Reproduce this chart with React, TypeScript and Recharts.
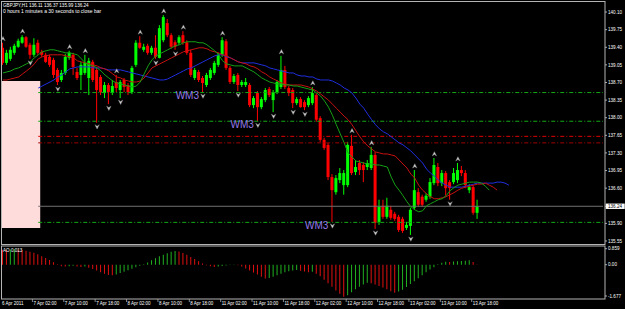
import React from 'react';
import { ComposedChart, Bar, Line, XAxis, YAxis, ReferenceLine, ReferenceArea, Cell } from 'recharts';

// GBPJPY H1 candles, one per hour from 6 Apr 19:00
const opens = [
  139.39, 139.09, 139.17, 139.29, 139.41, 139.49, 139.60, 139.45, 139.25, 139.49,
  139.31, 139.25, 139.21, 139.15, 138.95, 138.75, 138.89, 139.19, 139.25, 138.91,
  138.85, 138.89, 138.79, 139.11, 138.95, 138.81, 138.49, 138.65, 138.51, 138.71,
  138.55, 138.75, 138.65, 138.51, 139.05, 139.49, 139.35, 139.43, 139.29, 139.39,
  139.19, 139.54, 139.88, 139.64, 139.50, 139.49, 139.64, 139.50, 139.29, 138.79,
  138.91, 138.79, 138.65, 138.79, 138.89, 139.05, 139.25, 139.52, 138.99, 138.71,
  138.85, 138.65, 138.65, 138.65, 138.25, 138.49, 138.21, 138.35, 138.57, 138.35,
  138.51, 138.61, 138.95, 138.59, 138.55, 138.29, 138.37, 138.31, 138.25, 138.29,
  138.45, 137.99, 137.56, 137.46, 136.82, 136.52, 136.76, 136.66, 136.66, 137.44,
  136.92, 137.10, 137.06, 137.02, 137.00, 137.26, 135.93, 136.25, 136.03, 136.17,
  136.09, 136.03, 135.99, 135.81, 135.85, 136.21, 136.52, 136.43, 136.37, 136.43,
  136.70, 137.02, 136.70, 136.90, 136.72, 136.72, 136.76, 136.96, 136.90, 136.56,
  136.62, 136.11,
];
const highs = [
  139.49, 139.35, 139.41, 139.47, 139.57, 139.64, 139.62, 139.49, 139.58, 139.55,
  139.35, 139.29, 139.25, 139.19, 138.99, 138.95, 139.27, 139.33, 139.29, 138.99,
  139.11, 139.25, 139.19, 139.15, 138.99, 138.85, 138.71, 138.69, 138.75, 138.85,
  138.75, 138.79, 138.69, 139.03, 139.54, 139.62, 139.47, 139.47, 139.43, 139.64,
  139.84, 140.04, 139.96, 139.68, 139.54, 139.64, 139.72, 139.54, 139.35, 138.99,
  138.95, 138.83, 138.89, 138.99, 139.13, 139.29, 139.60, 139.56, 139.03, 138.87,
  138.89, 138.75, 138.79, 138.69, 138.43, 138.53, 138.41, 138.59, 138.61, 138.55,
  138.75, 139.23, 139.03, 138.63, 138.59, 138.41, 138.41, 138.35, 138.43, 138.61,
  138.49, 138.03, 137.60, 137.50, 136.88, 136.86, 137.00, 136.96, 137.52, 137.66,
  137.16, 137.16, 137.12, 137.16, 137.42, 137.32, 136.37, 136.37, 136.41, 136.25,
  136.13, 136.07, 136.03, 135.93, 136.21, 136.96, 136.60, 136.47, 136.50, 136.80,
  137.20, 137.10, 136.96, 136.94, 136.76, 137.00, 137.10, 137.04, 136.96, 136.68,
  136.66, 136.37,
];
const lows = [
  139.05, 139.05, 139.13, 139.25, 139.39, 139.47, 139.39, 139.17, 139.21, 139.25,
  139.21, 139.09, 139.01, 138.79, 138.65, 138.71, 138.85, 139.15, 138.85, 138.75,
  138.55, 138.85, 138.45, 138.71, 137.90, 138.45, 138.39, 138.27, 138.45, 138.51,
  138.39, 138.51, 138.45, 138.47, 139.01, 139.37, 139.31, 139.25, 139.25, 139.17,
  139.18, 139.50, 139.60, 139.37, 139.35, 139.45, 139.45, 139.25, 138.81, 138.75,
  138.71, 138.51, 138.61, 138.75, 138.85, 139.01, 139.21, 138.95, 138.67, 138.67,
  138.53, 138.61, 138.61, 138.21, 138.19, 137.93, 138.17, 138.31, 138.41, 138.11,
  138.47, 138.57, 138.57, 138.43, 138.19, 138.25, 138.20, 138.15, 138.21, 138.25,
  137.92, 137.52, 137.36, 136.76, 135.93, 136.47, 136.70, 136.47, 136.62, 136.86,
  136.86, 136.86, 136.72, 136.96, 136.96, 135.79, 135.87, 135.99, 135.99, 135.97,
  135.95, 135.73, 135.71, 135.77, 135.67, 136.17, 136.23, 136.23, 136.33, 136.39,
  136.66, 136.64, 136.64, 136.45, 136.37, 136.68, 136.70, 136.84, 136.60, 136.50,
  136.07, 135.99,
];
const closes = [
  139.09, 139.29, 139.35, 139.43, 139.53, 139.60, 139.41, 139.25, 139.45, 139.29,
  139.25, 139.11, 139.05, 138.85, 138.71, 138.89, 139.21, 139.29, 139.01, 138.79,
  139.05, 139.09, 139.13, 138.75, 138.55, 138.51, 138.65, 138.51, 138.63, 138.59,
  138.71, 138.61, 138.51, 138.99, 139.49, 139.39, 139.41, 139.29, 139.39, 139.21,
  139.78, 140.00, 139.64, 139.41, 139.41, 139.60, 139.49, 139.29, 138.85, 138.95,
  138.75, 138.69, 138.85, 138.95, 139.09, 139.25, 139.54, 138.99, 138.71, 138.83,
  138.65, 138.71, 138.71, 138.25, 138.39, 138.21, 138.37, 138.55, 138.45, 138.51,
  138.71, 138.95, 138.61, 138.49, 138.29, 138.37, 138.21, 138.21, 138.39, 138.49,
  137.96, 137.56, 137.40, 136.82, 136.56, 136.80, 136.90, 136.90, 137.46, 136.90,
  137.02, 136.96, 136.96, 137.10, 137.26, 135.91, 136.23, 136.03, 136.25, 136.01,
  135.99, 135.77, 135.75, 135.87, 136.17, 136.56, 136.27, 136.27, 136.45, 136.72,
  137.06, 136.70, 136.90, 136.60, 136.60, 136.90, 136.96, 136.90, 136.66, 136.62,
  136.11, 136.24,
];

// Alligator lines (shifted forward past the last bar)
const lips = [
  138.89, 138.91, 138.93, 138.97, 138.99, 139.03, 139.07, 139.11, 139.19, 139.25,
  139.31, 139.33, 139.35, 139.35, 139.33, 139.31, 139.29, 139.29, 139.27, 139.25,
  139.17, 139.09, 139.05, 139.03, 138.99, 138.93, 138.85, 138.79, 138.73, 138.69,
  138.67, 138.65, 138.63, 138.61, 138.63, 138.71, 138.87, 139.03, 139.15, 139.23,
  139.27, 139.31, 139.35, 139.39, 139.43, 139.45, 139.49, 139.51, 139.51, 139.51,
  139.49, 139.49, 139.45, 139.39, 139.33, 139.25, 139.13, 139.07, 139.05, 139.03,
  139.03, 139.03, 138.99, 138.95, 138.91, 138.85, 138.79, 138.75, 138.71, 138.69,
  138.67, 138.67, 138.65, 138.65, 138.63, 138.63, 138.61, 138.59, 138.57, 138.55,
  138.49, 138.43, 138.33, 138.21, 138.05, 137.86, 137.68, 137.50, 137.30, 137.22,
  137.14, 137.12, 137.10, 137.08, 137.08, 137.06, 137.06, 137.04, 137.02, 136.82,
  136.66, 136.56, 136.45, 136.33, 136.23, 136.17, 136.13, 136.15, 136.25, 136.29,
  136.33, 136.37, 136.39, 136.45, 136.55, 136.61, 136.66, 136.68, 136.70, 136.72,
  136.72, 136.72, 136.70, 136.64, 136.56,
];
const teeth = [
  138.75, 138.75, 138.77, 138.79, 138.81, 138.87, 138.93, 138.99, 139.07, 139.17,
  139.21, 139.23, 139.25, 139.25, 139.25, 139.25, 139.23, 139.21, 139.19, 139.13,
  139.11, 139.09, 139.07, 139.05, 139.03, 138.99, 138.97, 138.93, 138.87, 138.81,
  138.79, 138.75, 138.73, 138.71, 138.71, 138.73, 138.79, 138.89, 138.99, 139.03,
  139.07, 139.11, 139.15, 139.19, 139.23, 139.27, 139.31, 139.33, 139.35, 139.37,
  139.39, 139.39, 139.37, 139.33, 139.31, 139.29, 139.25, 139.23, 139.19, 139.15,
  139.11, 139.09, 139.07, 139.03, 139.01, 138.97, 138.91, 138.87, 138.81, 138.77,
  138.73, 138.69, 138.67, 138.65, 138.65, 138.65, 138.65, 138.63, 138.61, 138.57,
  138.53, 138.47, 138.41, 138.35, 138.27, 138.19, 138.11, 138.03, 137.96, 137.86,
  137.74, 137.62, 137.52, 137.44, 137.38, 137.32, 137.30, 137.28, 137.28, 137.26,
  137.24, 137.16, 137.08, 137.00, 136.88, 136.80, 136.66, 136.56, 136.49, 136.43,
  136.39, 136.39, 136.41, 136.43, 136.47, 136.51, 136.56, 136.60, 136.62, 136.64,
  136.66, 136.68, 136.68, 136.70, 136.66, 136.62, 136.56,
];
const jaw = [
  null, null, null, null, null, null, null, null, null, 138.59,
  138.63, 138.67, 138.71, 138.75, 138.81, 138.85, 138.91, 138.97, 138.99, 139.01,
  139.01, 139.01, 139.01, 138.99, 138.99, 138.99, 138.97, 138.95, 138.95, 138.95,
  138.95, 138.93, 138.91, 138.89, 138.87, 138.85, 138.83, 138.81, 138.79, 138.77,
  138.75, 138.75, 138.77, 138.81, 138.85, 138.89, 138.93, 138.97, 138.99, 139.03,
  139.07, 139.11, 139.15, 139.19, 139.23, 139.25, 139.25, 139.21, 139.19, 139.15,
  139.11, 139.09, 139.09, 139.09, 139.09, 139.07, 139.05, 139.03, 138.99, 138.97,
  138.95, 138.93, 138.91, 138.89, 138.89, 138.85, 138.83, 138.83, 138.81, 138.81,
  138.77, 138.75, 138.75, 138.75, 138.73, 138.69, 138.65, 138.59, 138.55, 138.49,
  138.39, 138.27, 138.19, 138.07, 137.96, 137.86, 137.78, 137.72, 137.68, 137.62,
  137.56, 137.50, 137.46, 137.40, 137.34, 137.26, 137.18, 137.10, 136.98, 136.90,
  136.84, 136.76, 136.70, 136.66, 136.62, 136.62, 136.62, 136.62, 136.64, 136.66,
  136.68, 136.70, 136.70, 136.70, 136.70, 136.70, 136.72, 136.72, 136.70, 136.66,
];

// Awesome Oscillator
const ao = [
  0.80, 0.78, 0.81, 0.84, 0.82, 0.79, 0.75, 0.70, 0.64, 0.56,
  0.46, 0.36, 0.25, 0.13, 0.02, -0.08, -0.10, -0.08, -0.06, -0.09,
  -0.12, -0.10, -0.16, -0.23, -0.31, -0.40, -0.48, -0.55, -0.57, -0.52,
  -0.45, -0.38, -0.30, -0.22, -0.14, -0.06, 0.03, 0.12, 0.24, 0.35,
  0.45, 0.54, 0.62, 0.70, 0.74, 0.71, 0.63, 0.53, 0.42, 0.30,
  0.18, 0.07, -0.03, -0.08, -0.12, -0.10, -0.07, -0.04, -0.01, 0.01,
  -0.03, -0.10, -0.20, -0.31, -0.42, -0.53, -0.64, -0.74, -0.71, -0.64,
  -0.56, -0.48, -0.41, -0.35, -0.31, -0.28, -0.33, -0.37, -0.40, -0.38,
  -0.48, -0.62, -0.80, -1.00, -1.18, -1.38, -1.56, -1.72, -1.64, -1.48,
  -1.32, -1.18, -1.06, -0.97, -1.00, -1.06, -1.14, -1.22, -1.32, -1.42,
  -1.50, -1.44, -1.34, -1.20, -1.04, -0.88, -0.72, -0.56, -0.40, -0.26,
  -0.13, 0.03, 0.10, 0.16, 0.14, 0.17, 0.19, 0.20, 0.21, 0.24,
  0.15, 0.013,
];

const upFractals = [0, 5, 17, 21, 29, 35, 41, 46, 56, 71, 79, 89, 94, 105, 110, 116];
const downFractals = [7, 14, 24, 27, 30, 39, 44, 51, 60, 65, 69, 74, 77, 84, 95, 104, 114];
const wm3Bars = [51, 65, 84];

const greenLevels = [138.50, 137.93, 135.92];
const redLevel = 137.63;
const darkRedLevel = 137.50;
const currentPrice = 136.24;

const priceTicks = [140.10, 139.75, 139.40, 139.05, 138.70, 138.35, 138.00, 137.65, 137.30, 136.95, 136.60, 136.24, 135.90, 135.55];
const aoTicks = [0.859, 0, -1.677];
const timeTicks = [0, 7, 15, 23, 31, 39, 47, 55, 63, 71, 79, 87, 95, 103, 111, 119];
const timeLabels = [
  '6 Apr 2011', '7 Apr 02:00', '7 Apr 10:00', '7 Apr 18:00', '8 Apr 02:00', '8 Apr 10:00',
  '8 Apr 18:00', '11 Apr 02:00', '11 Apr 10:00', '11 Apr 18:00', '12 Apr 02:00', '12 Apr 10:00',
  '12 Apr 18:00', '13 Apr 02:00', '13 Apr 10:00', '13 Apr 18:00',
];

const SLOTS = 154;
const FONT = '"Liberation Sans", Arial, sans-serif';
const pick = (arr: (number | null)[], i: number) => (i < arr.length ? arr[i] : null);

const rows = Array.from({ length: SLOTS }, (_, i) => ({
  i,
  o: pick(opens, i),
  h: pick(highs, i),
  l: pick(lows, i),
  c: pick(closes, i),
  lips: pick(lips, i),
  teeth: pick(teeth, i),
  jaw: pick(jaw, i),
  ao: pick(ao, i),
  aoUp: i > 0 && i < ao.length ? ao[i] > ao[i - 1] : false,
  up: upFractals.includes(i) ? highs[i] : null,
  dn: downFractals.includes(i) ? lows[i] : null,
  wm3: wm3Bars.includes(i),
}));

const Candle = (props: any) => {
  const { x, y, width, height, payload } = props;
  if (!payload || payload.h == null || !isFinite(y)) return <g />;
  const { o, h, l, c } = payload;
  const k = h > l ? height / (h - l) : 0;
  const py = (p: number) => y + (h - p) * k;
  const col = c >= o ? '#00ff00' : '#ff0000';
  const top = py(Math.max(o, c));
  const bh = Math.max(1, py(Math.min(o, c)) - top);
  const cx = x + width / 2;
  return (
    <g>
      <line x1={cx} x2={cx} y1={y} y2={y + height} stroke={col} strokeWidth={1} />
      <rect x={x} y={top} width={width} height={bh} fill={col} />
    </g>
  );
};

// bill williams fractal arrow, with the WM3 tag on the marked lows
const fractalDot = (dir: number) => (props: any) => {
  const { cx, cy, index, payload } = props;
  if (cx == null || cy == null || !isFinite(cy)) return <g key={index} />;
  const s = dir > 0 ? -1 : 1;
  const y0 = cy + 4 * s;
  const d = `M${cx - 2.2},${y0 - 2 * s} L${cx},${y0 + 2.3 * s} L${cx + 2.2},${y0 - 2 * s} L${cx},${y0 - 0.6 * s} Z`;
  return (
    <g key={index}>
      <path d={d} fill="#dcdcdc" stroke="#7a7a7a" strokeWidth={0.5} />
      {dir < 0 && payload.wm3 ? (
        <text x={cx - 4} y={y0 + 3} textAnchor="end" fontSize={10} fontFamily={FONT} fill="#9579e8">WM3</text>
      ) : null}
    </g>
  );
};

const PriceTick = (props: any) => {
  const { x, y, payload } = props;
  const v = payload.value;
  const cur = v === currentPrice;
  return (
    <g>
      {cur ? <rect x={x - 2.3} y={y - 2.7} width={19} height={5.4} fill="#ffffff" /> : null}
      <text x={x} y={y} dy={1.7} fontSize={4.6} fontFamily={FONT} fill={cur ? '#000' : '#fff'} textAnchor="start">
        {v.toFixed(2)}
      </text>
    </g>
  );
};

const AoTick = (props: any) => {
  const { x, y, payload } = props;
  const v = payload.value;
  const label = v === 0 ? '0.00' : v.toFixed(3);
  return (
    <text x={x} y={y} dy={1.7} fontSize={4.6} fontFamily={FONT} fill="#fff" textAnchor="start">{label}</text>
  );
};

const TimeTick = (props: any) => {
  const { x, y, payload } = props;
  const idx = timeTicks.indexOf(payload.value);
  const first = idx === 0;
  return (
    <g>
      {!first ? <line x1={x + 2} x2={x + 2} y1={54} y2={57} stroke="#aaa" strokeWidth={0.8} /> : null}
      <text x={first ? x - 1 : x + 3} y={y} dy={3.4} fontSize={4.5} fontFamily={FONT} fill="#fff" textAnchor="start">
        {timeLabels[idx]}
      </text>
    </g>
  );
};

const dashDot = '4 2 1 2';

export default function App() {
  return (
    <div style={{ position: 'absolute', left: 0, top: 0, width: 625, height: 309, background: '#000', overflow: 'hidden' }}>
      <div style={{ position: 'absolute', left: 0, top: 0 }}>
        <ComposedChart width={625} height={245} data={rows} margin={{ top: 2, right: 0, bottom: 1, left: 1 }} barCategoryGap={0}>
          <XAxis dataKey="i" type="category" hide />
          <YAxis
            orientation="right"
            width={20}
            domain={[135.49, 140.3]}
            allowDataOverflow
            ticks={priceTicks}
            interval={0}
            tick={<PriceTick />}
            tickSize={2}
            tickMargin={1}
            tickLine={{ stroke: '#aaa' }}
            axisLine={false}
          />
          {greenLevels.map((p) => (
            <ReferenceLine key={p} segment={[{ x: 9, y: p }, { x: 153, y: p }]} stroke="#14a814" strokeDasharray={dashDot} />
          ))}
          <ReferenceLine segment={[{ x: 9, y: redLevel }, { x: 153, y: redLevel }]} stroke="#e00000" strokeDasharray={dashDot} />
          <ReferenceLine segment={[{ x: 9, y: darkRedLevel }, { x: 153, y: darkRedLevel }]} stroke="#a00000" strokeDasharray={dashDot} />
          <ReferenceLine segment={[{ x: 9, y: currentPrice }, { x: 153, y: currentPrice }]} stroke="#707070" />
          <ReferenceArea x1={0} x2={9} y1={135.81} y2={138.73} fill="#ffdcdc" fillOpacity={1} stroke="none" />
          <Bar dataKey={(d: any) => (d.h == null ? null : [d.l, d.h])} barSize={3} shape={(p: any) => <Candle {...p} />} isAnimationActive={false} />
          <Line dataKey="jaw" stroke="#1f2ee0" strokeWidth={1} dot={false} activeDot={false} isAnimationActive={false} />
          <Line dataKey="teeth" stroke="#c81010" strokeWidth={1} dot={false} activeDot={false} isAnimationActive={false} />
          <Line dataKey="lips" stroke="#16a016" strokeWidth={1} dot={false} activeDot={false} isAnimationActive={false} />
          <Line dataKey="up" stroke="none" dot={fractalDot(1)} activeDot={false} isAnimationActive={false} />
          <Line dataKey="dn" stroke="none" dot={fractalDot(-1)} activeDot={false} isAnimationActive={false} />
        </ComposedChart>
      </div>
      <div style={{ position: 'absolute', left: 0, top: 245 }}>
        <ComposedChart width={625} height={64} data={rows} margin={{ top: 0, right: 0, bottom: 0, left: 1 }} barCategoryGap={0}>
          <XAxis
            dataKey="i"
            type="category"
            ticks={timeTicks}
            interval={0}
            tick={<TimeTick />}
            tickSize={2}
            tickMargin={1}
            tickLine={false}
            axisLine={false}
            height={10}
          />
          <YAxis
            orientation="right"
            width={20}
            domain={[-1.838, 1.057]}
            allowDataOverflow
            ticks={aoTicks}
            interval={0}
            tick={<AoTick />}
            tickSize={2}
            tickMargin={1}
            tickLine={{ stroke: '#aaa' }}
            axisLine={false}
          />
          <Bar dataKey="ao" barSize={1} isAnimationActive={false}>
            {rows.map((r) => (
              <Cell key={r.i} fill={r.aoUp ? '#20b020' : '#e01010'} />
            ))}
          </Bar>
        </ComposedChart>
      </div>
      <svg width={625} height={309} style={{ position: 'absolute', left: 0, top: 0, pointerEvents: 'none' }}>
        <rect x={1.5} y={1.5} width={603.5} height={243} fill="none" stroke="#b4b4b4" />
        <rect x={1.5} y={246} width={603.5} height={53} fill="none" stroke="#b4b4b4" />
        <text x={3} y={6.8} fontSize={4.6} fontFamily={FONT} fill="#fff">GBPJPY,H1  136.11 136.37 135.99 136.24</text>
        <text x={3} y={12.5} fontSize={5} fontFamily={FONT} fill="#fff">0 hours 1 minutes a 30 seconds to close bar</text>
        <text x={3} y={251.5} fontSize={4.6} fontFamily={FONT} fill="#fff">AO 0.013</text>
      </svg>
    </div>
  );
}
